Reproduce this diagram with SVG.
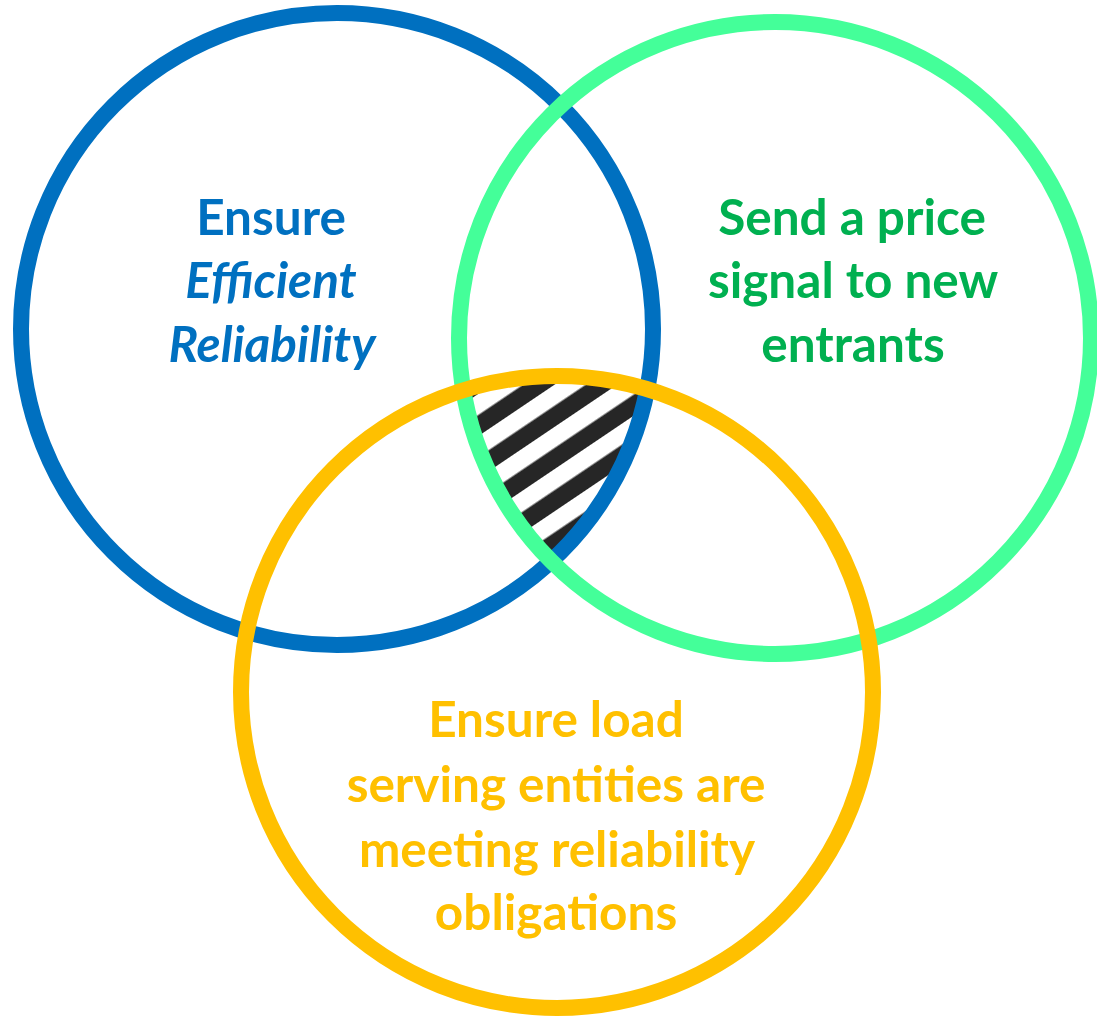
<svg xmlns="http://www.w3.org/2000/svg" width="1097" height="1017" viewBox="0 0 1097 1017">
  <style>
    .ring { fill: none; stroke-width: 16; }
    .lbl { font-family: Lato, "Liberation Sans", sans-serif; font-weight: bold; font-size: 49.5px; text-anchor: middle; }
    .blue { fill: #0070C0; }
    .green { fill: #00B050; }
    .yellow { fill: #FFC000; }
  </style>
  <defs>
    <pattern id="hatch" patternUnits="userSpaceOnUse" width="40" height="35" patternTransform="rotate(-34)">
      <rect x="0" y="16.5" width="40" height="17.5" fill="#262626"/>
    </pattern>
    <clipPath id="clipBlue"><circle cx="337" cy="329" r="316"/></clipPath>
    <clipPath id="clipGreen"><circle cx="775" cy="338" r="316"/></clipPath>
    <clipPath id="clipYellow"><circle cx="557" cy="692" r="316"/></clipPath>
  </defs>
  <rect width="1097" height="1017" fill="#FFFFFF"/>

  <g id="intersection">
    <g clip-path="url(#clipBlue)">
      <g clip-path="url(#clipGreen)">
        <rect x="400" y="330" width="300" height="300" fill="url(#hatch)" clip-path="url(#clipYellow)"/>
      </g>
    </g>
  </g>

  <g id="efficient-reliability">
    <circle class="ring" cx="337" cy="329" r="316" stroke="#0070C0"/>
    <text class="lbl blue" x="271" y="235">Ensure</text>
    <text class="lbl blue" x="271" y="298" font-style="italic">Efficient</text>
    <text class="lbl blue" x="272" y="362" font-style="italic">Reliability</text>
  </g>

  <g id="price-signal">
    <circle class="ring" cx="775" cy="338" r="316" stroke="#44FF99"/>
    <text class="lbl green" x="852" y="235">Send a price</text>
    <text class="lbl green" x="853" y="298">signal to new</text>
    <text class="lbl green" x="853" y="362">entrants</text>
  </g>

  <g id="lse-obligations">
    <circle class="ring" cx="557" cy="692" r="316" stroke="#FFC000"/>
    <text class="lbl yellow" x="556" y="737">Ensure load</text>
    <text class="lbl yellow" x="556" y="802">serving entities are</text>
    <text class="lbl yellow" x="557" y="867">meeting reliability</text>
    <text class="lbl yellow" x="556" y="930">obligations</text>
  </g>

  <g id="connectors"/>
</svg>
